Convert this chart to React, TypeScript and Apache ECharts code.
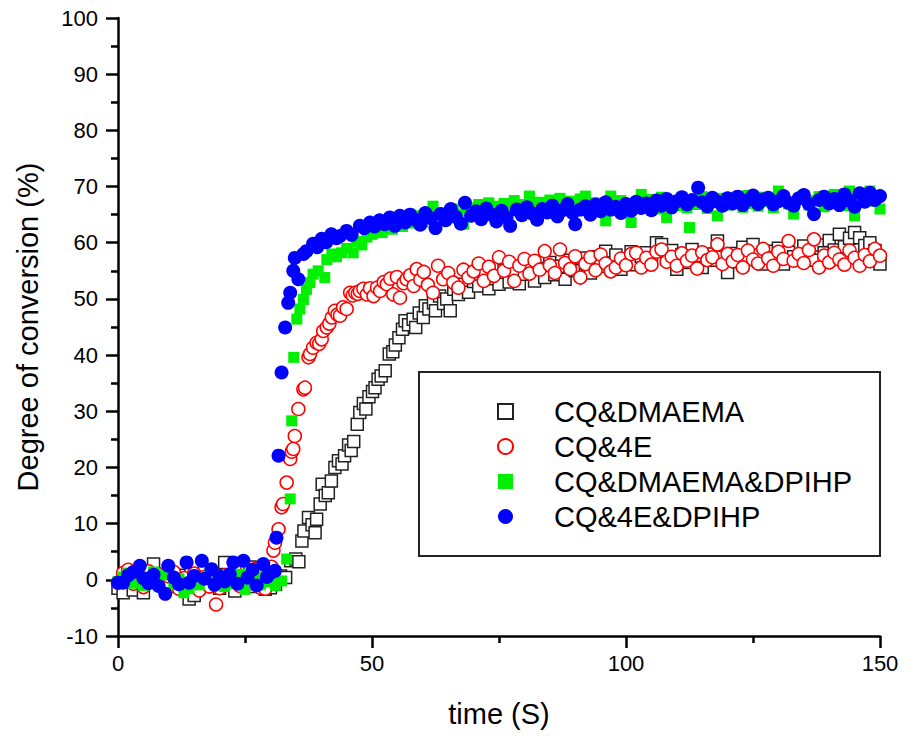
import { useEffect, useRef } from "react";
import * as echarts from "echarts";

const SERIES_NAMES = ["CQ&DMAEMA", "CQ&4E", "CQ&DMAEMA&DPIHP", "CQ&4E&DPIHP"];
const X_TITLE = "time (S)";
const Y_TITLE = "Degree of conversion (%)";
const X_RANGE = [0, 150];
const Y_RANGE = [-10, 100];

// [time (s), conversion (%)]
const CQ_DMAEMA: [number, number][] = [
  [0,-1.5],[1,-2.3],[2,-0.4],[3,-1.8],[4,0.6],[5,-2.3],[6,1.0],[7,2.8],[8,0.3],[9,-0.8],[10,1.5],[11,-1.2],[12,0.8],[13,-0.3],[14,-3.4],[15,-2.8],[16,0.2],[17,1.3],[18,-0.6],[19,0.9],[20,-1.5],[21,3.1],[22,0.4],[23,-2.0],[24,1.6],[25,-0.7],[26,2.3],[27,-1.2],[28,0.6],[29,-1.7],[30,-1.4],[31,-0.8],[32,0.7],[33,0.4],[34,3.4],[35,3.7],[35.6,3.2],[36.2,6.9],[36.6,8.7],[37.5,11.1],[38.2,9.8],[38.8,8.4],[39.1,10.8],[39.8,13.5],[40.2,17.0],[40.8,15.0],[41.4,15.5],[42,17.6],[42.7,20.0],[43.4,21.2],[44.1,20.6],[44.6,22.1],[45.4,24.0],[45.9,23.0],[46.4,24.6],[47.1,27.7],[47.6,29.8],[48.3,31.4],[48.8,30.4],[49.4,32.6],[50.1,33.5],[50.6,34.2],[51.2,35.7],[51.8,36.3],[52.6,37.2],[53.4,40.2],[54.1,40.6],[54.6,41.8],[55.3,43.1],[56.0,44.6],[56.5,46.1],[57.2,45.4],[58.1,46.4],[58.6,44.9],[59.3,47.5],[60.1,46.7],[60.5,48.8],[61.2,48.2],[62.1,49.3],[62.5,47.9],[63.3,50.5],[64.1,49.2],[64.7,50.0],[65.4,47.9],[66.1,51.7],[67,50.8],[68,52.6],[69,51.2],[70,53.1],[71,52.3],[72,54.2],[73,51.8],[74,53.6],[75,52.6],[76,55.1],[77,53.0],[78,54.8],[79,52.7],[80,54.4],[81,56.0],[82,53.2],[83,55.4],[84,53.8],[85,56.5],[86,54.3],[87,55.8],[88,53.5],[89,56.9],[90,55.0],[91,57.3],[92,56.2],[93,54.6],[94,57.5],[95,55.8],[96,58.5],[97,56.4],[98,57.8],[99,55.3],[100,57.0],[101,58.4],[102,56.1],[103,57.6],[104,58.2],[105,56.8],[106,60.0],[107,59.7],[108,57.2],[109,58.6],[110,55.3],[111,57.9],[112,56.5],[113,58.8],[114,57.1],[115,55.6],[116,58.0],[117,56.9],[118,60.3],[119,57.4],[120,54.7],[121,58.1],[122,56.6],[123,59.2],[124,57.0],[125,59.7],[126,57.8],[127,56.2],[128,58.5],[129,57.3],[130,59.0],[131,56.2],[132,58.3],[133,57.5],[134,57.1],[135,59.4],[136,58.0],[137,56.9],[138,59.6],[139,58.2],[140,60.4],[141,58.7],[142,61.5],[143,59.3],[144,60.8],[145,61.8],[146,60.9],[147,59.5],[148,60.0],[149,58.6],[150,56.2]
];

const CQ_4E: [number, number][] = [
  [0,-0.5],[1,1.2],[2,1.8],[3,-0.7],[4,0.9],[5,-1.3],[6,1.5],[7,0.2],[8,1.0],[9,-0.9],[10,0.6],[11,1.4],[12,-1.6],[13,0.3],[14,-0.8],[15,1.1],[16,-1.9],[17,0.5],[18,-1.2],[19.3,-4.4],[20,-1.5],[21,0.8],[22,-0.4],[23,1.7],[24,-1.1],[25,0.3],[26,-0.6],[27,1.9],[28,-1.4],[29,-1.6],[29.6,0.2],[30.2,2.3],[30.6,5.2],[30.9,6.6],[31.6,9.0],[32.2,12.9],[32.5,13.5],[33.2,17.3],[33.9,21.5],[34.2,22.8],[34.5,23.3],[34.8,25.6],[35.5,30.4],[36.5,33.9],[36.8,34.2],[37.5,39.6],[37.8,40.2],[38.4,41.3],[39.1,42.2],[39.6,42.0],[40.1,42.8],[40.4,44.3],[41.1,44.9],[41.6,45.6],[42.1,46.7],[42.7,47.9],[43.2,47.2],[43.7,47.0],[44.3,48.5],[45,48.2],[45.7,51.1],[46.2,50.6],[46.7,51.1],[47.2,50.9],[47.6,51.4],[48.3,51.8],[49,50.8],[49.6,51.9],[50.3,50.5],[51,52.0],[51.6,51.4],[52.3,53.0],[52.9,52.6],[53.6,53.6],[54.2,50.8],[54.9,53.9],[55.5,50.2],[56.2,52.8],[56.8,53.5],[57.5,54.2],[58.2,52.3],[58.8,55.3],[59.5,53.4],[60.2,54.8],[61,52.5],[62,51.1],[63,55.9],[64,53.5],[65,54.6],[66,52.9],[67,52.0],[68,55.2],[69,53.8],[70,54.9],[71,56.3],[72,53.2],[73,55.7],[74,54.1],[75,57.4],[76,55.0],[77,56.6],[78,53.2],[79,55.9],[80,57.1],[81,54.5],[82,56.8],[83,55.2],[84,58.5],[85,56.0],[86,54.6],[87,58.8],[88,56.4],[89,55.3],[90,57.6],[91,53.8],[92,56.2],[93,57.4],[94,55.1],[95,57.9],[96,56.3],[97,54.9],[98,55.6],[99,57.2],[100,56.0],[101,58.0],[102,58.2],[103,55.6],[104,57.3],[105,56.1],[106,58.4],[107,58.8],[108,56.6],[109,57.5],[110,55.9],[111,58.1],[112,56.8],[113,57.7],[114,55.4],[115,58.3],[116,56.9],[117,57.4],[118,59.7],[119,56.2],[120,58.0],[121,56.7],[122,57.8],[123,55.6],[124,58.6],[125,57.0],[126,56.3],[127,58.9],[128,57.2],[129,55.9],[130,58.4],[131,57.1],[132,60.3],[133,56.8],[134,58.0],[135,56.4],[136,58.7],[137,60.6],[138,55.6],[139,57.7],[140,56.5],[141,58.2],[142,57.0],[143,56.1],[144,58.6],[145,57.3],[146,55.9],[147,57.8],[148,56.7],[149,58.9],[150,57.7]
];

const CQ_DMAEMA_DPIHP: [number, number][] = [
  [0,-0.3],[1,0.5],[2,1.2],[3,-0.6],[4,0.8],[5,-1.0],[6,0.4],[7,1.4],[8,-0.5],[9,0.9],[10,1.3],[11,-0.8],[12,0.2],[13,-2.3],[14,-1.6],[15,0.6],[16,-0.9],[17,0.3],[18,1.1],[19,-0.4],[20,0.7],[21,-1.2],[22,0.1],[23,-0.7],[24,1.0],[25,-1.7],[26,-0.5],[27,0.4],[28,-0.9],[29,0.6],[30,-0.4],[31,-1.0],[32.2,-0.2],[33.2,3.7],[33.9,14.4],[34.2,28.3],[34.6,39.6],[35.2,46.4],[35.8,48.2],[36.5,49.9],[37.1,51.7],[37.8,52.9],[38.4,54.4],[39.4,55.0],[40.7,53.8],[41.1,57.0],[42.1,58.0],[43,57.5],[44,58.2],[45,59.0],[46.3,58.2],[47,60.2],[48,59.6],[49,61.0],[50,61.5],[51,62.3],[52,61.8],[53,63.0],[54,62.4],[55,63.6],[56,62.9],[57,64.2],[58,63.5],[59,64.8],[60,63.7],[61,65.0],[62,66.5],[63,64.1],[64,65.3],[65,64.6],[66,66.0],[67,65.1],[68,63.3],[69,66.2],[70,65.5],[71,66.8],[72,65.0],[73,67.1],[74,66.5],[75,65.8],[76,67.0],[77,66.1],[78,67.5],[79,65.9],[80,66.8],[81,68.3],[82,66.4],[83,67.2],[84,65.7],[85,67.6],[86,66.3],[87,67.9],[88,66.0],[89,67.4],[90,66.7],[91,67.8],[92,68.3],[93,66.5],[94,67.1],[95,65.6],[96,63.9],[97,68.3],[98,66.9],[99,67.5],[100,65.8],[101,63.6],[102,67.2],[103,68.6],[104,66.4],[105,67.7],[106,66.0],[107,68.1],[108,64.5],[109,67.3],[110,66.6],[111,67.9],[112,66.2],[112.5,62.7],[113,67.5],[114,66.8],[115,68.2],[116,66.1],[117,67.4],[118,64.8],[119,67.9],[120,66.7],[121,68.0],[122,67.1],[123,66.3],[124,68.4],[125,67.0],[126,66.5],[127,68.1],[128,67.3],[129,66.2],[130,69.2],[131,67.6],[132,66.9],[133,65.1],[134,67.8],[135,68.4],[136,66.7],[137,67.5],[138,68.2],[139,66.4],[140,67.9],[141,68.6],[142,67.0],[143,66.6],[144,69.2],[145,64.8],[146,67.7],[147,68.3],[148,69.2],[149,67.4],[150,66.0]
];

const CQ_4E_DPIHP: [number, number][] = [
  [0,-0.5],[1,-0.5],[2,0.8],[3,1.4],[4.3,2.5],[5,0.3],[6,-0.6],[7,0.9],[8,-1.1],[9.3,-2.5],[9.9,2.5],[11,0.4],[12,-0.8],[13.5,3.1],[14,-0.5],[15,0.7],[16.5,3.4],[17,0.2],[18.4,1.9],[19,-0.9],[20,0.6],[21,-0.3],[22,1.0],[22.7,3.1],[23.5,-0.7],[24.7,3.4],[25.5,0.4],[26.5,1.8],[27.3,-1.0],[28.6,2.8],[29.3,0.5],[30,1.2],[30.9,1.6],[31.2,7.5],[31.6,22.1],[32.2,36.9],[32.9,44.9],[33.5,49.3],[33.9,51.1],[34.5,55.0],[34.8,57.3],[35.5,53.5],[36.5,58.0],[37.1,58.5],[38.4,59.8],[39.2,59.2],[40.1,60.7],[41,60.1],[42,61.5],[43,60.8],[43.7,61.2],[45,62.1],[46,61.4],[47.6,63.0],[48.5,62.6],[49.6,63.6],[50.5,62.9],[51.5,64.0],[52.5,63.3],[53.5,64.5],[54.5,63.0],[55.5,64.8],[56.5,63.6],[57.5,65.0],[58.5,64.1],[59.5,63.2],[60.5,65.3],[61.5,64.4],[62.5,62.6],[63.5,65.1],[64.5,64.0],[65.5,66.0],[66.5,64.6],[67.5,63.4],[68.3,67.1],[69.5,64.8],[70.5,65.6],[71.5,64.2],[72.5,66.1],[73.5,65.0],[74.5,63.8],[75.5,65.7],[76.5,64.5],[77.2,63.0],[78.5,65.9],[79.5,64.9],[80.5,66.3],[81.5,65.2],[82.5,64.1],[83.5,66.0],[84.5,65.4],[85.5,66.6],[86.5,64.7],[87.5,65.8],[88.5,66.9],[89.5,65.3],[90,63.3],[91,65.9],[92,66.5],[93,65.0],[94,66.8],[95,65.6],[96,67.2],[97,65.9],[98,66.4],[99,65.3],[100,66.9],[101,65.7],[102,67.3],[103,66.2],[104,67.0],[105,65.8],[106,67.5],[107,66.6],[108,67.8],[109,66.3],[110,67.4],[111,68.1],[112,66.8],[113,67.6],[114.2,69.8],[115,67.2],[116,66.5],[117,68.0],[118,67.3],[119,66.6],[120,67.9],[121,67.0],[122,68.2],[123,66.7],[124,67.6],[125,68.4],[126,66.9],[127,67.7],[128,68.0],[129,66.8],[130,67.4],[131,68.3],[132,67.1],[133,66.6],[134,67.9],[135,68.5],[136,66.9],[137,65.1],[138,67.6],[139,68.2],[140,67.0],[141,67.8],[142,66.7],[143,68.6],[144,67.5],[145,66.4],[146,68.8],[147,67.3],[148,68.9],[149,67.6],[150,68.3]
];

const FONT = "'Liberation Sans', Arial, Helvetica, sans-serif";

export default function App() {
  const ref = useRef<HTMLDivElement>(null);

  useEffect(() => {
    if (!ref.current) return;
    const chart = echarts.init(ref.current, null, { renderer: "svg" });

    const axisLine = { show: true, onZero: false, lineStyle: { color: "#000", width: 2.5 } };
    const axisTick = { show: true, inside: false, length: 12, lineStyle: { color: "#000", width: 2.5 } };
    const minorTick = { show: true, splitNumber: 2, length: 7, lineStyle: { color: "#000", width: 2.5 } };

    chart.setOption({
      animation: false,
      backgroundColor: "#fff",
      grid: { left: 118, right: 41, top: 18, bottom: 108, containLabel: false },
      xAxis: {
        type: "value",
        min: X_RANGE[0],
        max: X_RANGE[1],
        interval: 50,
        name: X_TITLE,
        nameLocation: "middle",
        nameGap: 63,
        nameTextStyle: { fontSize: 29, color: "#000", fontFamily: FONT },
        axisLine,
        axisTick,
        minorTick,
        splitLine: { show: false },
        axisLabel: { fontSize: 22, color: "#000", fontFamily: FONT, margin: 16 },
      },
      yAxis: {
        type: "value",
        min: Y_RANGE[0],
        max: Y_RANGE[1],
        interval: 10,
        name: Y_TITLE,
        nameLocation: "middle",
        nameRotate: 90,
        nameGap: 76,
        nameTextStyle: { fontSize: 29, color: "#000", fontFamily: FONT },
        axisLine,
        axisTick,
        minorTick,
        splitLine: { show: false },
        axisLabel: { fontSize: 22, color: "#000", fontFamily: FONT, margin: 20 },
      },
      legend: {
        orient: "vertical",
        left: 492,
        top: 392,
        itemWidth: 15,
        itemHeight: 15,
        itemGap: 6,
        selectedMode: false,
        data: SERIES_NAMES,
        textStyle: { fontSize: 29, color: "#000", fontFamily: FONT, padding: [0, 0, 0, 36] },
      },
      graphic: [
        {
          type: "rect",
          shape: { x: 419, y: 372, width: 461, height: 184 },
          style: { fill: "none", stroke: "#222", lineWidth: 2 },
          silent: true,
          z: 10,
        },
      ],
      series: [
        {
          name: SERIES_NAMES[0],
          type: "scatter",
          data: CQ_DMAEMA,
          symbol: "rect",
          symbolSize: 12,
          itemStyle: { color: "#fff", borderColor: "#222", borderWidth: 1.5, opacity: 1 },
        },
        {
          name: SERIES_NAMES[1],
          type: "scatter",
          data: CQ_4E,
          symbol: "circle",
          symbolSize: 13,
          itemStyle: { color: "#fff", borderColor: "#ff0000", borderWidth: 1.5, opacity: 1 },
        },
        {
          name: SERIES_NAMES[2],
          type: "scatter",
          data: CQ_DMAEMA_DPIHP,
          symbol: "rect",
          symbolSize: 11,
          itemStyle: { color: "#00f000", opacity: 1 },
        },
        {
          name: SERIES_NAMES[3],
          type: "scatter",
          data: CQ_4E_DPIHP,
          symbol: "circle",
          symbolSize: 14,
          itemStyle: { color: "#0000ff", opacity: 1 },
        },
      ],
    });

    return () => chart.dispose();
  }, []);

  return (
    <div
      ref={ref}
      style={{ position: "absolute", left: 0, top: 0, width: 921, height: 744, background: "#fff" }}
    />
  );
}
